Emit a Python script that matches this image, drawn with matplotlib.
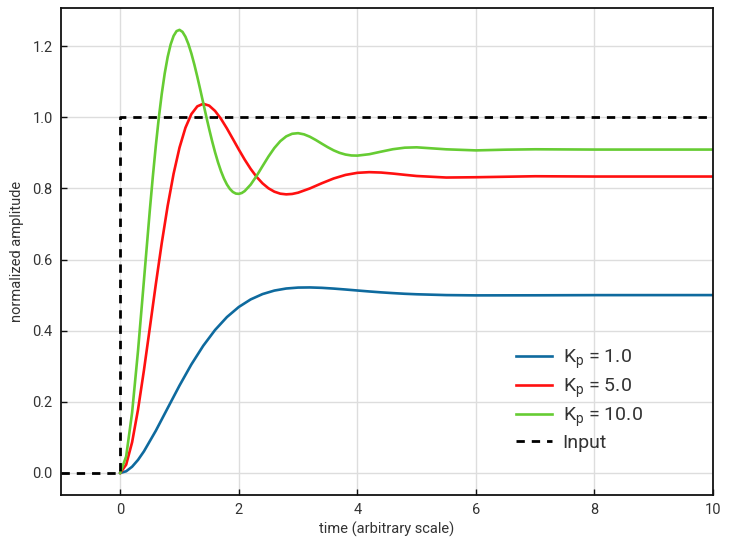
import matplotlib
matplotlib.use("Agg")
import matplotlib.pyplot as plt

# step responses
t_kp1 = [0.0, 0.1, 0.2, 0.3, 0.4, 0.6, 0.8, 1.0, 1.2, 1.4, 1.6, 1.8, 2.0, 2.2, 2.4, 2.6, 2.8,
         3.0, 3.2, 3.4, 3.6, 3.8, 4.0, 4.2, 4.4, 4.6, 4.8, 5.0, 5.5, 6.0, 7.0, 8.0, 10.0]
y_kp1 = [0.0, 0.0047, 0.0175, 0.0367, 0.0608, 0.1186, 0.1823, 0.2458, 0.3051, 0.3575,
         0.4020, 0.4383, 0.4666, 0.4878, 0.5028, 0.5127, 0.5185, 0.5211, 0.5215, 0.5204,
         0.5183, 0.5157, 0.5129, 0.5102, 0.5077, 0.5056, 0.5037, 0.5023, 0.5000, 0.4992,
         0.4994, 0.4999, 0.5]

t_kp5 = [0.0, 0.1, 0.2, 0.3, 0.4, 0.5, 0.6, 0.7, 0.8, 0.9, 1.0, 1.1, 1.2, 1.3, 1.4,
         1.5, 1.6, 1.7, 1.8, 1.9, 2.0, 2.1, 2.2, 2.3, 2.4, 2.5, 2.6, 2.7, 2.8, 2.9,
         3.0, 3.2, 3.4, 3.6, 3.8, 4.0, 4.2, 4.4, 4.6, 4.8, 5.0, 5.5, 6.0, 7.0, 8.0, 10.0]
y_kp5 = [0.0, 0.0233, 0.0862, 0.1781, 0.2889, 0.4090, 0.5303, 0.6460, 0.7508, 0.8412,
         0.9147, 0.9705, 1.0088, 1.0306, 1.0378, 1.0326, 1.0176, 0.9954, 0.9684, 0.9389,
         0.9092, 0.8807, 0.8548, 0.8324, 0.8142, 0.8003, 0.7907, 0.7851, 0.7832, 0.7843,
         0.7879, 0.7999, 0.8144, 0.8278, 0.8378, 0.8437, 0.8456, 0.8445, 0.8416, 0.8381,
         0.8348, 0.8305, 0.8313, 0.8341, 0.8333, 0.8333]

t_kp10 = [0.0, 0.1, 0.2, 0.3, 0.4, 0.5, 0.55, 0.6, 0.65, 0.7, 0.75, 0.8, 0.85, 0.9,
          0.95, 1.0, 1.05, 1.1, 1.15, 1.2, 1.25, 1.3, 1.35, 1.4, 1.45, 1.5, 1.55, 1.6,
          1.65, 1.7, 1.75, 1.8, 1.85, 1.9, 1.95, 2.0, 2.05, 2.1, 2.2, 2.3, 2.4, 2.5,
          2.6, 2.7, 2.8, 2.9, 3.0, 3.1, 3.2, 3.3, 3.4, 3.5, 3.6, 3.7, 3.8, 3.9, 4.0,
          4.2, 4.4, 4.6, 4.8, 5.0, 5.5, 6.0, 6.5, 7.0, 8.0, 10.0]
y_kp10 = [0.0, 0.0464, 0.1696, 0.3436, 0.5418, 0.7404, 0.8335, 0.9197, 0.9974, 1.0654,
          1.1229, 1.1693, 1.2045, 1.2286, 1.2421, 1.2456, 1.2400, 1.2263, 1.2056, 1.1792,
          1.1482, 1.1139, 1.0775, 1.0402, 1.0030, 0.9669, 0.9327, 0.9012, 0.8729, 0.8482,
          0.8274, 0.8108, 0.7983, 0.7899, 0.7854, 0.7846, 0.7870, 0.7925, 0.8105, 0.8350,
          0.8624, 0.8894, 0.9135, 0.9327, 0.9462, 0.9535, 0.9552, 0.9519, 0.9451, 0.9359,
          0.9257, 0.9158, 0.9069, 0.8999, 0.8951, 0.8925, 0.8921, 0.8960, 0.9032, 0.9101,
          0.9144, 0.9154, 0.9098, 0.9068, 0.9088, 0.9099, 0.9091, 0.9091]

t_input = [-1.0, 0.0, 0.0, 10.0]
y_input = [0.0, 0.0, 1.0, 1.0]

gains = ["1.0", "5.0", "10.0"]
colors = ["#0e6a9e", "#ff1010", "#66cc33"]

plt.rcParams["font.family"] = ["Roboto", "DejaVu Sans"]
plt.rcParams["mathtext.fontset"] = "custom"
plt.rcParams["mathtext.rm"] = "Roboto"
plt.rcParams["mathtext.it"] = "Roboto"

fig = plt.figure(figsize=(7.31, 5.46), dpi=100)
ax = fig.add_axes([0.0834, 0.0934, 0.8920, 0.8919])

curves = [(t_kp1, y_kp1), (t_kp5, y_kp5), (t_kp10, y_kp10)]
for (t, y), g, c in zip(curves, gains, colors):
    ax.plot(t, y, color=c, linewidth=1.9, label=r"K$_\mathrm{p}$ = " + g)
ax.plot(t_input, y_input, color="black", linewidth=2.0, linestyle=(0, (3, 2.5)), label="Input")

ax.set_xlim(-1, 10)
ax.set_ylim(-0.062, 1.307)
ax.set_xticks([0, 2, 4, 6, 8, 10])
ax.set_yticks([0.0, 0.2, 0.4, 0.6, 0.8, 1.0, 1.2])
ax.set_yticklabels(["0.0", "0.2", "0.4", "0.6", "0.8", "1.0", "1.2"])
ax.grid(True, color="#dddddd", linewidth=1.0)
ax.set_axisbelow(True)
ax.tick_params(direction="in", labelsize=10.5, length=4, width=1, pad=6,
               color="#111111", labelcolor="#333333")
for s in ax.spines.values():
    s.set_color("#111111")
    s.set_linewidth(1.3)

ax.set_xlabel("time (arbitrary scale)", fontsize=10.5, color="#333333", labelpad=3)
ax.set_ylabel("normalized amplitude", fontsize=10.5, color="#333333", labelpad=6)

ax.legend(loc="center left", bbox_to_anchor=(0.671, 0.195), frameon=False, fontsize=14,
          handlelength=1.85, handletextpad=0.55, labelspacing=0.28, labelcolor="#333333")

fig.savefig("out.png", dpi=100)
